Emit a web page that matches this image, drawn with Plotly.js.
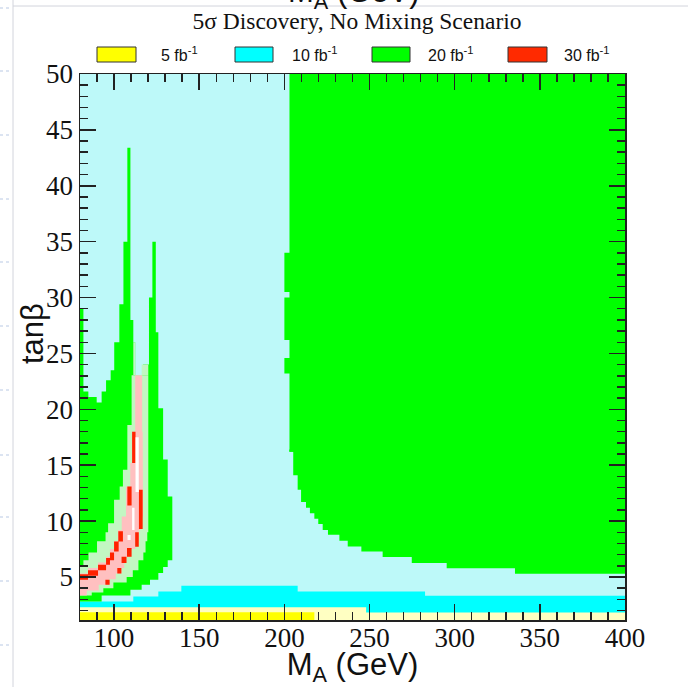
<!DOCTYPE html>
<html><head><meta charset="utf-8">
<script src="https://cdn.plot.ly/plotly-3.0.1.min.js"></script>
<style>html,body{margin:0;padding:0;background:#fff;} #chart{width:688px;height:687px;}</style>
</head><body><div id="chart"></div>
<script>
// ---------------- data ----------------
const lumiLabels = ["5 fb<sup>-1</sup>", "10 fb<sup>-1</sup>", "20 fb<sup>-1</sup>", "30 fb<sup>-1</sup>"];

// bottom bands (M_A column edges, tanβ upper edge)
const cyanEdges = [80, 111.3, 126, 139.5, 207.8, 282.6, 400];
const cyanTop   = [2.8, 3.26, 3.71, 4.21, 3.71, 3.32];
const paleYellowEdges = [80, 248, 400];
const paleYellowTop   = [2.28, 1.83];
const yellowEdges = [80, 217.6];
const yellowTop   = [1.85];
const tanbMin = 1.15, tanbMax = 50;

// right 20 fb^-1 region: upper part (rows of tanβ, left edge in M_A)
const rgRowEdges = [16.2, 23.2, 24.6, 26.2, 30.0, 30.5, 34.0, 50];
const rgRowLeft  = [203, 200, 203, 200, 203, 200, 203];
// right 20 fb^-1 region: lower staircase (M_A columns, lower tanβ edge)
const rgColEdges = [202.9, 205.2, 207.8, 209.8, 212.7, 215.0, 217.6, 219.9, 222.5, 225.6, 232.3, 237.2, 245.2, 257.7, 274.8, 295.3, 335.4, 400];
const rgColLow   = [16.2, 14.1, 12.8, 11.7, 11.2, 10.7, 10.2, 9.75, 9.2, 8.77, 8.23, 7.72, 7.28, 6.78, 6.24, 5.79, 5.29];
const rgJoin = 16.4;

// left 20 fb^-1 region (M_A columns, [low, high] tanβ)
const lgEdges = [80, 82, 84.9, 89.8, 92.7, 95.3, 98, 100.1, 103.1, 105.5, 107.8, 109.6, 111.3, 112.4, 116.2, 117, 120.5, 121.1, 122.5, 124.5, 126, 128.8, 131.5, 134.2];
const lgHigh  = [29.0, 21.6, 21.1, 20.6, 21.6, 22.6, 23.5, 26.0, 29.4, 35.0, 43.4, 28.0, 26.0, 23.05, 23.05, 24.0, 30.0, 30.0, 35.0, 26.9, 20.1, 15.5, 12.2];
const lgLow   = [2.8, 2.8, 2.8, 2.8, 3.35, 3.35, 3.35, 3.35, 3.35, 3.35, 3.35, 3.86, 3.86, 3.86, 4.3, 4.3, 4.3, 4.75, 4.75, 4.75, 5.35, 5.9, 6.5];

// light-green band (tanβ rows, [left, right] M_A)
const lgnRowEdges = [3.35, 3.6, 4.0, 4.5, 5.0, 5.6, 6.05, 6.5, 7.2, 8.2, 9.0, 9.8, 11.9, 13.1, 14.6, 18.6, 23.05];
const lgnLeft  = [80, 80, 80, 80, 80, 80, 82, 85, 90, 95, 96.5, 100, 103.3, 105.2, 107.8, 110.3];
const lgnRight = [86.9, 93.7, 99.6, 107.4, 111, 114.3, 114.3, 117.2, 118.5, 119.5, 120.1, 120.1, 120.1, 120.1, 120.1, 120.1];
const lgnCellX0 = [111.3, 116.2], lgnCellX1 = [112.4, 120.1], lgnCellY0 = [23.05, 23.05], lgnCellY1 = [26.0, 24.0];

// pink band (tanβ rows, [left, right] M_A)
const pinkRowEdges = [3.35, 3.8, 4.3, 4.8, 5.3, 5.8, 6.3, 6.8, 7.5, 8.2, 9.2, 10.4, 13.1, 15.2, 18.0, 23.05];
const pinkLeft  = [80, 80, 80, 80, 84.7, 90.6, 95.3, 97.6, 100, 102.3, 104.5, 107, 109.5, 110.5, 112.4];
const pinkRight = [84, 91, 97, 101, 104.3, 106, 107.2, 109.8, 112.5, 114.5, 115.5, 117, 117, 116.8, 116.5];

// 30 fb^-1 (red) cells
const redX0 = [80, 84.7, 90.6, 95.3, 97.6, 100, 102.5, 107.8, 110.6, 94.9, 101.9, 104.4, 107.6, 112.4, 114.6];
const redX1 = [84.7, 90.6, 95.3, 97.6, 100, 102.7, 105.2, 110.3, 112.6, 97.4, 104.3, 107.3, 110.3, 114.5, 116.8];
const redY0 = [4.75, 5.1, 5.6, 6.1, 6.5, 7.28, 8.17, 11.4, 15.2, 4.3, 5.3, 6.25, 6.8, 7.7, 9.3];
const redY1 = [5.25, 5.6, 6.1, 6.7, 7.2, 8.17, 9.1, 13.1, 18.0, 4.75, 5.8, 6.8, 7.6, 9.0, 12.8];

// white cells
const whiteX0 = [112.6, 110.6, 107.9], whiteX1 = [114.5, 112.0, 109.7];
const whiteY0 = [12.6, 9.2, 8.3],     whiteY1 = [17.5, 11.2, 8.75];

// ---------------- builders ----------------
function colPoly(edges, lo, hi) {
  const xs = [], ys = [];
  for (let i = 0; i < edges.length - 1; i++) {
    const h = Array.isArray(hi) ? hi[i] : hi;
    xs.push(edges[i], edges[i + 1]); ys.push(h, h);
  }
  for (let i = edges.length - 2; i >= 0; i--) {
    const l = Array.isArray(lo) ? lo[i] : lo;
    xs.push(edges[i + 1], edges[i]); ys.push(l, l);
  }
  xs.push(xs[0]); ys.push(ys[0]);
  return {xs, ys};
}
function rowPoly(tEdges, xlo, xhi) {
  const xs = [], ys = [];
  for (let i = 0; i < tEdges.length - 1; i++) {
    const r = Array.isArray(xhi) ? xhi[i] : xhi;
    xs.push(r, r); ys.push(tEdges[i], tEdges[i + 1]);
  }
  for (let i = tEdges.length - 2; i >= 0; i--) {
    const l = Array.isArray(xlo) ? xlo[i] : xlo;
    xs.push(l, l); ys.push(tEdges[i + 1], tEdges[i]);
  }
  xs.push(xs[0]); ys.push(ys[0]);
  return {xs, ys};
}
function rects(x0, x1, y0, y1) {
  const xs = [], ys = [];
  for (let i = 0; i < x0.length; i++) {
    xs.push(x0[i], x1[i], x1[i], x0[i], x0[i], null);
    ys.push(y0[i], y0[i], y1[i], y1[i], y0[i], null);
  }
  return {xs, ys};
}
function area(p, color, name) {
  return {type: 'scatter', mode: 'lines', x: p.xs, y: p.ys, fill: 'toself',
          fillcolor: color, line: {width: 0, color: color}, hoverinfo: 'skip',
          showlegend: false, name: name || ''};
}

const C = {
  bg: '#bdf9f9', cyan: '#00ffff', paleYellow: '#ffffc2', yellow: '#ffff00',
  green: '#00ff00', lightGreen: '#c2f7c2', pink: '#ffc0c0', red: '#ff2200', white: '#ffffff'
};

const traces = [
  area(colPoly(cyanEdges, tanbMin, cyanTop), C.cyan, '10 fb-1 band'),
  area(colPoly(paleYellowEdges, tanbMin, paleYellowTop), C.paleYellow),
  area(colPoly(yellowEdges, tanbMin, yellowTop), C.yellow, '5 fb-1'),
  area(rowPoly(rgRowEdges, rgRowLeft, 400), C.green, '20 fb-1'),
  area(colPoly(rgColEdges, rgColLow, rgJoin), C.green),
  area(colPoly(lgEdges, lgLow, lgHigh), C.green),
  area(rowPoly(lgnRowEdges, lgnLeft, lgnRight), C.lightGreen),
  area(rects(lgnCellX0, lgnCellX1, lgnCellY0, lgnCellY1), C.lightGreen),
  area(rowPoly(pinkRowEdges, pinkLeft, pinkRight), C.pink),
  area(rects(redX0, redX1, redY0, redY1), C.red, '30 fb-1'),
  area(rects(whiteX0, whiteX1, whiteY0, whiteY1), C.white)
];

// ---------------- layout ----------------
const L = 80, R = 625, T = 74, B = 620;
const X = px => (px - L) / (R - L);
const Y = py => (B - py) / (B - T);
const SANS = 'Liberation Sans, Arial, sans-serif';
const SERIF = 'Liberation Serif, Times New Roman, serif';

const legBoxes = [[97, 136], [235, 273], [372, 410], [508, 547]];
const legText = [159, 290, 426, 562];
const legColors = [C.yellow, C.cyan, C.green, '#ff2a00'];

const shapes = [], annotations = [];
// page decorations (document frame around the figure)
shapes.push({type: 'line', xref: 'paper', yref: 'paper', x0: X(13), x1: X(13), y0: Y(0), y1: Y(687), line: {color: '#d2d4dc', width: 1}});
shapes.push({type: 'line', xref: 'paper', yref: 'paper', x0: X(13), x1: X(688), y0: Y(6), y1: Y(6), line: {color: '#d2d4dc', width: 1}});
[8, 71, 135, 199, 262, 326, 390, 455, 517, 581, 645].forEach(py => {
  shapes.push({type: 'line', xref: 'paper', yref: 'paper', x0: X(0), x1: X(11), y0: Y(py), y1: Y(py),
    line: {color: '#b9c9e4', width: 1, dash: 'dot'}});
});
legBoxes.forEach((b, i) => {
  shapes.push({type: 'rect', xref: 'paper', yref: 'paper', x0: X(b[0]), x1: X(b[1]),
    y0: Y(62), y1: Y(47), fillcolor: legColors[i], line: {color: '#333', width: 1}});
  annotations.push({xref: 'paper', yref: 'paper', x: X(legText[i]), y: Y(54), xanchor: 'left', yanchor: 'middle',
    showarrow: false, text: lumiLabels[i], font: {family: SANS, size: 16, color: '#111'}});
});
// cut-off axis title of the previous figure at the very top of the page
annotations.push({xref: 'paper', yref: 'paper', x: X(354), y: Y(16), xanchor: 'center', yanchor: 'bottom',
  showarrow: false, text: 'M<sub>A</sub> (GeV)', font: {family: SANS, size: 31, color: '#111'}});
// y-axis title
annotations.push({xref: 'paper', yref: 'paper', x: X(32), y: Y(334), xanchor: 'center', yanchor: 'middle',
  showarrow: false, textangle: -90, text: 'tanβ', font: {family: SANS, size: 31, color: '#111'}});

const axisCommon = {
  showline: true, linecolor: '#222', linewidth: 1.5, mirror: 'allticks',
  ticks: 'inside', ticklen: 16, tickwidth: 1.5, tickcolor: '#222',
  showgrid: false, zeroline: false,
  tickfont: {family: SERIF, size: 27, color: '#111'}
};

const layout = {
  width: 688, height: 687,
  margin: {l: L, r: 688 - R, t: T, b: 687 - B},
  paper_bgcolor: '#ffffff', plot_bgcolor: C.bg,
  showlegend: false,
  title: {text: '5σ Discovery, No Mixing Scenario', x: X(357), xanchor: 'center', y: 1 - 21 / 687, yanchor: 'middle', xref: 'paper',
          font: {family: SERIF, size: 23.5, color: '#111'}},
  xaxis: Object.assign({}, axisCommon, {range: [80, 400], tick0: 0, dtick: 50, ticklabelstandoff: -7,
    minor: {dtick: 10, tick0: 0, ticks: 'inside', ticklen: 8, tickwidth: 1.5, tickcolor: '#222'},
    title: {text: 'M<sub>A</sub> (GeV)', standoff: 14, font: {family: SANS, size: 31, color: '#111'}}}),
  yaxis: Object.assign({}, axisCommon, {range: [tanbMin, tanbMax], tick0: 0, dtick: 5,
    minor: {dtick: 1, tick0: 0, ticks: 'inside', ticklen: 8, tickwidth: 1.5, tickcolor: '#222'}}),
  shapes: shapes, annotations: annotations
};

Plotly.newPlot('chart', traces, layout, {displayModeBar: false, staticPlot: true});
</script></body></html>
